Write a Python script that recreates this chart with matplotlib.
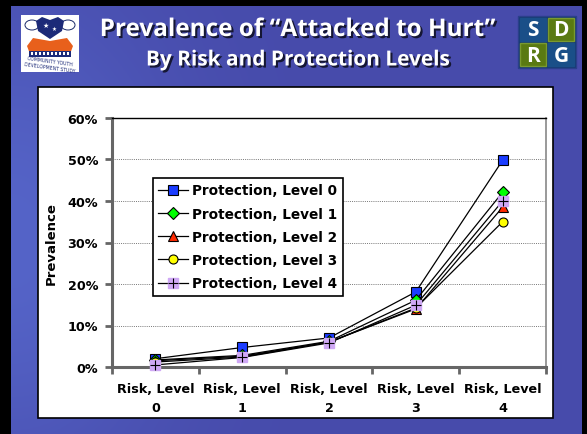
import matplotlib.pyplot as plt
import matplotlib.patheffects as pe
from matplotlib.patches import Rectangle, Ellipse, Polygon
from matplotlib.ticker import MultipleLocator, FuncFormatter, FixedLocator
import numpy as np

# data
categories = ['Risk, Level\n0', 'Risk, Level\n1', 'Risk, Level\n2', 'Risk, Level\n3', 'Risk, Level\n4']
series_names = ['Protection, Level 0', 'Protection, Level 1', 'Protection, Level 2',
                'Protection, Level 3', 'Protection, Level 4']
prot0 = [2.0, 4.7, 7.0, 18.1, 49.8]
prot1 = [1.7, 2.8, 6.2, 16.1, 42.1]
prot2 = [1.5, 2.6, 6.0, 14.0, 38.5]
prot3 = [1.2, 2.4, 6.0, 14.2, 35.0]
prot4 = [0.5, 2.3, 5.8, 14.9, 40.0]

W, H = 587, 435
fig = plt.figure(figsize=(W / 100, H / 100), dpi=100)
fig.patch.set_facecolor('black')

# slide background in pixel coordinates
bg = fig.add_axes([0, 0, 1, 1])
bg.set_xlim(0, W)
bg.set_ylim(H, 0)
bg.axis('off')
grad = np.linspace(0, 1, 256)
gx, gy = np.meshgrid(grad, grad)
shade = np.exp(-((gx - 0.0) ** 2) / 0.08 - ((gy - 0.55) ** 2) / 0.3)
c0 = np.array([0x47, 0x4b, 0xab]) / 255
c1 = np.array([0x55, 0x64, 0xc8]) / 255
img = c0[None, None, :] + shade[..., None] * (c1 - c0)[None, None, :]
bg.imshow(img, extent=(11, 582, H, 7), aspect='auto', zorder=0)

# white chart panel
bg.add_patch(Rectangle((38, 88), 515, 331, facecolor='white', edgecolor='black', lw=1.2, zorder=1))

# titles
shadow = [pe.SimplePatchShadow(offset=(1.5, -1.5), shadow_rgbFace='black', alpha=0.7), pe.Normal()]
bg.text(297, 31, 'Prevalence of \u201cAttacked to Hurt\u201d', color='white', fontsize=17.5,
        fontweight='bold', family='Open Sans', ha='center', va='center', path_effects=shadow, zorder=3)
bg.text(298, 61, 'By Risk and Protection Levels', color='white', fontsize=15,
        fontweight='bold', family='Open Sans', ha='center', va='center', path_effects=shadow, zorder=3)

# left logo
bg.add_patch(Rectangle((21, 16), 58, 57, facecolor='white', edgecolor='none', zorder=2))
bg.add_patch(Ellipse((32, 26), 14, 10, facecolor='white', edgecolor='#1a2a6a', lw=0.7, zorder=3))
bg.add_patch(Ellipse((68, 26), 14, 10, facecolor='white', edgecolor='#1a2a6a', lw=0.7, zorder=3))
bg.add_patch(Polygon([[36, 22], [42, 18], [50, 21], [58, 18], [64, 22], [62, 32], [50, 40], [38, 32]],
                     closed=True, facecolor='#1c2a78', edgecolor='none', zorder=3))
bg.text(46, 26, '\u2605', color='white', fontsize=5, ha='center', va='center', zorder=4)
bg.text(54, 29, '\u2605', color='white', fontsize=4, ha='center', va='center', zorder=4)
bg.add_patch(Polygon([[27, 47], [33, 39], [50, 42], [67, 39], [73, 47], [70, 55], [30, 55]],
                     closed=True, facecolor='#e8601c', edgecolor='none', zorder=3))
bg.add_patch(Rectangle((29, 52), 42, 6, facecolor='#1c2a78', edgecolor='none', zorder=4))
for hx in range(31, 70, 4):
    bg.add_patch(Rectangle((hx, 53), 2, 2.5, facecolor='white', edgecolor='none', zorder=5))
bg.text(50, 62, 'COMMUNITY YOUTH', color='#1c2a78', fontsize=3.3, ha='center', va='center',
        rotation=-8, zorder=4)
bg.text(50, 68, 'DEVELOPMENT STUDY', color='#1c2a78', fontsize=3.3, ha='center', va='center',
        rotation=-8, zorder=4)

# right logo
bg.add_patch(Rectangle((518, 17), 58, 52, facecolor='#153a70', edgecolor='#2a3f8a', lw=1, zorder=2))
cells = [(520, 19, '#1a4f88', 'S'), (548, 19, '#5a7a12', 'D'),
         (520, 44, '#5a7a12', 'R'), (548, 44, '#1a4f88', 'G')]
for cx, cy, col, letter in cells:
    bg.add_patch(Rectangle((cx, cy), 26, 23, facecolor=col,
                           edgecolor='#7a9a30' if col == '#5a7a12' else col, lw=1, zorder=3))
    bg.text(cx + 13, cy + 12, letter, color='white', fontsize=15, fontweight='bold', family='Open Sans',
            ha='center', va='center', zorder=4)

# chart
ax = fig.add_axes([112 / W, 1 - 368 / H, (546 - 112) / W, (368 - 119) / H])
ax.set_facecolor('white')
x = np.arange(len(categories))
marker_kw = dict(color='black', lw=0.9, markersize=7, markeredgecolor='black', markeredgewidth=0.8,
                 clip_on=False, zorder=3)
h0, = ax.plot(x, prot0, marker='s', markerfacecolor='#1a3cff', **marker_kw)
h1, = ax.plot(x, prot1, marker='D', markerfacecolor='#00ff00', **dict(marker_kw, markersize=6))
h2, = ax.plot(x, prot2, marker='^', markerfacecolor='#ff2a00', **marker_kw)
h3, = ax.plot(x, prot3, marker='o', markerfacecolor='#ffff00', **dict(marker_kw, markersize=6.5))
h4, = ax.plot(x, prot4, color='black', lw=0.9, marker='s', markersize=7, markerfacecolor='#cfa8f5',
              markeredgecolor='#cfa8f5', clip_on=False, zorder=3)
h4b, = ax.plot(x, prot4, ls='none', marker='+', markersize=6.5, color='black', markeredgewidth=0.8,
               clip_on=False, zorder=4)

ax.set_xlim(-0.5, 4.5)
ax.set_ylim(0, 60)
ax.yaxis.set_major_locator(MultipleLocator(10))
ax.yaxis.set_major_formatter(FuncFormatter(lambda v, p: f'{v:.0f}%'))
ax.grid(axis='y', color='#777777', ls=(0, (1, 1.2)), lw=0.7)
ax.set_axisbelow(True)

ax.xaxis.set_major_locator(FixedLocator(np.arange(-0.5, 5, 1)))
ax.xaxis.set_major_formatter(FuncFormatter(lambda v, p: ''))
ax.xaxis.set_minor_locator(FixedLocator(x))
ax.set_xticklabels(categories, minor=True)
ax.tick_params(axis='x', which='minor', length=0, pad=11)
ax.tick_params(axis='x', which='major', length=5, width=2, color='#666666', direction='out')
ax.tick_params(axis='y', length=5, width=2, color='#666666', direction='out', pad=5)

for lab in ax.get_yticklabels() + ax.get_xticklabels(minor=True):
    lab.set_fontfamily('DejaVu Sans')
    lab.set_fontweight('bold')
    lab.set_fontsize(9.2)
for lab in ax.get_xticklabels(minor=True):
    lab.set_linespacing(1.6)

ax.spines['left'].set_color('#666666')
ax.spines['left'].set_linewidth(2.2)
ax.spines['bottom'].set_color('#666666')
ax.spines['bottom'].set_linewidth(2.2)
ax.spines['top'].set_color('black')
ax.spines['top'].set_linewidth(1)
ax.spines['right'].set_color('#888888')
ax.spines['right'].set_linewidth(1.2)

ax.set_ylabel('Prevalence', family='DejaVu Sans', fontweight='bold', fontsize=9.5, labelpad=7)

leg = ax.legend([h0, h1, h2, h3, (h4, h4b)], series_names, loc='upper left',
                bbox_to_anchor=(153 / W, 1 - 179 / H), bbox_transform=fig.transFigure,
                prop=dict(family='DejaVu Sans', weight='bold', size=9.8),
                frameon=True, fancybox=False, edgecolor='black', framealpha=1,
                handlelength=2.2, handletextpad=0.3, labelspacing=0.68, borderpad=0.4,
                borderaxespad=0)
leg.get_frame().set_linewidth(1.2)

fig.savefig('out.png', dpi=100, facecolor=fig.get_facecolor())
